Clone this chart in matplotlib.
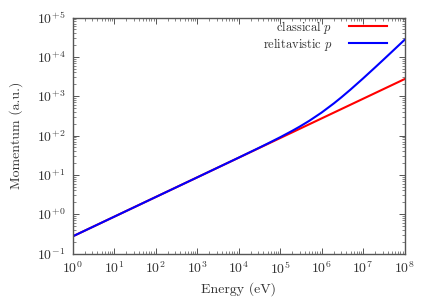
import numpy as np
import matplotlib
matplotlib.use("Agg")
import matplotlib.pyplot as plt
from matplotlib.ticker import FixedLocator, FixedFormatter, LogLocator, NullFormatter

plt.rcParams['mathtext.fontset'] = 'cm'
plt.rcParams['font.family'] = ['cmr10', 'DejaVu Serif']
plt.rcParams['axes.formatter.use_mathtext'] = True

# Energy (eV)
energy = [1, 10, 100, 1e3, 1e4, 3e4, 5e4, 1e5, 2e5, 3e5, 5e5, 1e6, 2e6, 3e6, 5e6,
          1e7, 2e7, 3e7, 5e7, 1e8]
# Momentum (a.u.)
p_classical = [0.271, 0.857, 2.711, 8.57, 27.11, 46.96, 60.62, 85.7, 121.2, 148.5,
               191.7, 271.1, 383.4, 469.6, 606.2, 857.3, 1212, 1485, 1917, 2711]
p_relativistic = [0.271, 0.857, 2.711, 8.57, 27.24, 47.64, 62.09, 89.8, 132.6, 168.9,
                  233.9, 381.3, 659.3, 931.5, 1471.5, 2815, 5499, 8181, 13545, 26954]

xticks = [1, 10, 100, 1e3, 1e4, 1e5, 1e6, 1e7, 1e8]
xticklabels = [r'$10^{0}$', r'$10^{1}$', r'$10^{2}$', r'$10^{3}$', r'$10^{4}$',
               r'$10^{5}$', r'$10^{6}$', r'$10^{7}$', r'$10^{8}$']
yticks = [0.1, 1, 10, 100, 1e3, 1e4, 1e5]
yticklabels = [r'$10^{-1}$', r'$10^{+0}$', r'$10^{+1}$', r'$10^{+2}$', r'$10^{+3}$',
               r'$10^{+4}$', r'$10^{+5}$']

fig = plt.figure(figsize=(4.30, 3.01), dpi=100)
ax = fig.add_axes([72.5/430, 1 - 253.5/301, (404.5 - 72.5)/430, (253.5 - 17.5)/301])

ax.plot(energy, p_classical, color='#ff0000', lw=1.5, label=r'classical $p$')
ax.plot(energy, p_relativistic, color='#0000ff', lw=1.5, label=r'relitavistic $p$')

ax.set_xscale('log')
ax.set_yscale('log')
ax.set_xlim(1, 1e8)
ax.set_ylim(0.1, 1e5)

ax.xaxis.set_major_locator(FixedLocator(xticks))
ax.xaxis.set_major_formatter(FixedFormatter(xticklabels))
ax.yaxis.set_major_locator(FixedLocator(yticks))
ax.yaxis.set_major_formatter(FixedFormatter(yticklabels))
ax.xaxis.set_minor_locator(LogLocator(base=10, subs=np.arange(2, 10), numticks=20))
ax.yaxis.set_minor_locator(LogLocator(base=10, subs=np.arange(2, 10), numticks=20))
ax.xaxis.set_minor_formatter(NullFormatter())
ax.yaxis.set_minor_formatter(NullFormatter())

spine_color = '#555555'
for s in ax.spines.values():
    s.set_color(spine_color)
    s.set_linewidth(1.0)
ax.tick_params(which='both', direction='in', top=True, right=True, colors=spine_color,
               labelcolor='#333333', labelsize=10)
ax.tick_params(which='major', length=4, width=0.7, pad=5)
ax.tick_params(which='minor', length=2, width=0.5)

ax.set_xlabel('Energy (eV)', fontsize=10, color='#333333', labelpad=4)
ax.set_ylabel('Momentum (a.u.)', fontsize=10, color='#333333', labelpad=10)

leg = ax.legend(loc='upper right', frameon=False, markerfirst=False, fontsize=9,
                handlelength=3.05, handletextpad=1.35, labelspacing=0.0,
                bbox_to_anchor=(0.948, 0.995), borderaxespad=0.0, borderpad=0.0)
for t in leg.get_texts():
    t.set_color('#333333')

fig.savefig('out.png', dpi=100)
